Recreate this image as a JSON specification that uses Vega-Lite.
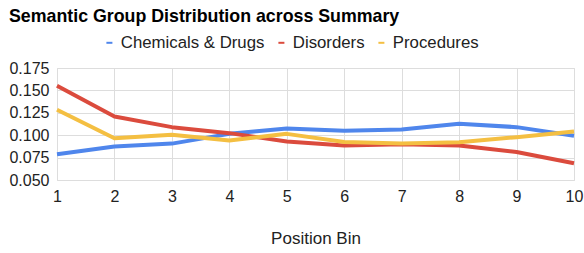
{
  "$schema": "https://vega.github.io/schema/vega-lite/v6.json",
  "width": 517,
  "height": 112,
  "autosize": {"type": "none"},
  "padding": {"left": 57, "top": 68, "right": 10, "bottom": 73},
  "background": "white",
  "title": {
    "text": "Semantic Group Distribution across Summary",
    "anchor": "start",
    "frame": "bounds",
    "font": "Liberation Sans",
    "fontSize": 17.8,
    "fontWeight": "bold",
    "color": "#000000",
    "dx": 0,
    "dy": 10,
    "baseline": "alphabetic"
  },
  "data": {
    "values": [
      {"bin": 1, "group": "Chemicals & Drugs", "value": 0.0788},
      {"bin": 2, "group": "Chemicals & Drugs", "value": 0.0873},
      {"bin": 3, "group": "Chemicals & Drugs", "value": 0.0906},
      {"bin": 4, "group": "Chemicals & Drugs", "value": 0.1015},
      {"bin": 5, "group": "Chemicals & Drugs", "value": 0.1074},
      {"bin": 6, "group": "Chemicals & Drugs", "value": 0.1049},
      {"bin": 7, "group": "Chemicals & Drugs", "value": 0.1063},
      {"bin": 8, "group": "Chemicals & Drugs", "value": 0.1127},
      {"bin": 9, "group": "Chemicals & Drugs", "value": 0.109},
      {"bin": 10, "group": "Chemicals & Drugs", "value": 0.0993},
      {"bin": 1, "group": "Disorders", "value": 0.1552},
      {"bin": 2, "group": "Disorders", "value": 0.1209},
      {"bin": 3, "group": "Disorders", "value": 0.109},
      {"bin": 4, "group": "Disorders", "value": 0.1023},
      {"bin": 5, "group": "Disorders", "value": 0.0929},
      {"bin": 6, "group": "Disorders", "value": 0.0884},
      {"bin": 7, "group": "Disorders", "value": 0.09},
      {"bin": 8, "group": "Disorders", "value": 0.0884},
      {"bin": 9, "group": "Disorders", "value": 0.0813},
      {"bin": 10, "group": "Disorders", "value": 0.0687},
      {"bin": 1, "group": "Procedures", "value": 0.1284},
      {"bin": 2, "group": "Procedures", "value": 0.0966},
      {"bin": 3, "group": "Procedures", "value": 0.1004},
      {"bin": 4, "group": "Procedures", "value": 0.094},
      {"bin": 5, "group": "Procedures", "value": 0.1015},
      {"bin": 6, "group": "Procedures", "value": 0.0925},
      {"bin": 7, "group": "Procedures", "value": 0.0906},
      {"bin": 8, "group": "Procedures", "value": 0.0922},
      {"bin": 9, "group": "Procedures", "value": 0.0978},
      {"bin": 10, "group": "Procedures", "value": 0.1041}
    ]
  },
  "mark": {"type": "line", "strokeWidth": 4, "strokeJoin": "round", "strokeCap": "butt"},
  "encoding": {
    "x": {
      "field": "bin",
      "type": "quantitative",
      "scale": {"domain": [1, 10], "nice": false, "zero": false},
      "axis": {
        "title": "Position Bin",
        "titleFont": "Liberation Sans",
        "titleFontSize": 17,
        "titleFontWeight": "normal",
        "titleColor": "#222222",
        "titlePadding": 26,
        "values": [1, 2, 3, 4, 5, 6, 7, 8, 9, 10],
        "labelFont": "Liberation Sans",
        "labelFontSize": 16,
        "labelColor": "#222222",
        "labelPadding": 8,
        "labelFlush": false,
        "ticks": false,
        "domain": false,
        "grid": true,
        "gridColor": "#dddddd",
        "gridWidth": 1
      }
    },
    "y": {
      "field": "value",
      "type": "quantitative",
      "scale": {"domain": [0.05, 0.175], "nice": false, "zero": false},
      "axis": {
        "title": null,
        "values": [0.05, 0.075, 0.1, 0.125, 0.15, 0.175],
        "format": ".3f",
        "labelFont": "Liberation Sans",
        "labelFontSize": 16,
        "labelColor": "#222222",
        "labelPadding": 8,
        "labelFlush": false,
        "ticks": false,
        "domain": false,
        "grid": true,
        "gridColor": "#dddddd",
        "gridWidth": 1
      }
    },
    "color": {
      "field": "group",
      "type": "nominal",
      "scale": {
        "domain": ["Chemicals & Drugs", "Disorders", "Procedures"],
        "range": ["#4F86EC", "#DB4B3D", "#F4BF42"]
      },
      "legend": {
        "title": null,
        "orient": "none",
        "legendX": 44,
        "legendY": -34,
        "direction": "horizontal",
        "symbolType": "stroke",
        "symbolSize": 36,
        "symbolStrokeWidth": 2,
        "labelFont": "Liberation Sans",
        "labelFontSize": 16.8,
        "labelColor": "#222222",
        "labelOffset": 3,
        "columnPadding": 8
      }
    }
  },
  "config": {"view": {"stroke": "#dddddd"}}
}
